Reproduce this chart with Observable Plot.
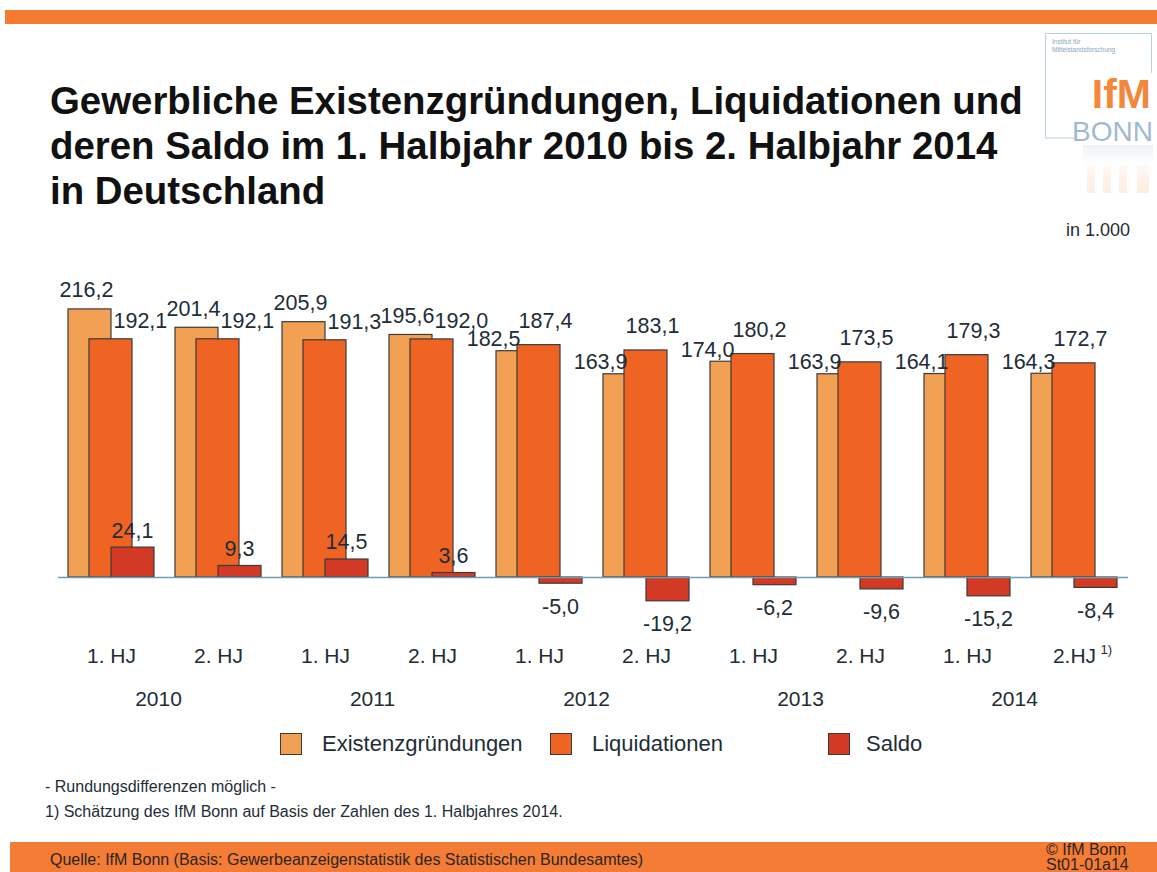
<!DOCTYPE html>
<html>
<head>
<meta charset="utf-8">
<script src="https://cdn.jsdelivr.net/npm/d3@7"></script>
<script src="https://cdn.jsdelivr.net/npm/@observablehq/plot@0.6"></script>
<style>
  html, body { margin: 0; padding: 0; background: #fff; }
  #page { position: relative; width: 1157px; height: 872px; overflow: hidden; background: #fff;
          font-family: "Liberation Sans", Arial, sans-serif; color: #1e2d36; }
  .abs { position: absolute; white-space: nowrap; }
  #topbar { left: 5px; right: 0; top: 10px; height: 14px; background: #f47b30; }
  #title { left: 50px; top: 78px; font-size: 38.4px; line-height: 45px; font-weight: bold; color: #111; }
  #unit { right: 27px; top: 220px; font-size: 18px; }
  #chart { left: 0; top: 260px; }
  .leg { top: 733px; height: 22px; display: flex; align-items: center; font-size: 22px; }
  .sw { width: 20px; height: 20px; border: 1px solid #3b3b3b; margin-right: 20px; }
  .note { left: 45px; font-size: 16px; color: #1e2d36; }
  #footer { left: 10px; right: 0; top: 842px; height: 30px; background: #f47c35; }
  #src { left: 50px; top: 851px; font-size: 16px; color: #2a2522; }
  #copy { left: 1046px; top: 842px; font-size: 16px; line-height: 15px; color: #2a2522; }
  #logo { left: 1045px; top: 33px; width: 110px; height: 165px; }
</style>
</head>
<body>
<div id="page">
  <div id="topbar" class="abs"></div>
  <div id="title" class="abs">Gewerbliche Existenzgründungen, Liquidationen und<br>deren Saldo im 1. Halbjahr 2010 bis 2. Halbjahr 2014<br>in Deutschland</div>
  <svg id="logo" class="abs" width="110" height="165" viewBox="0 0 110 165">
    <defs>
      <linearGradient id="fadeB" x1="0" y1="0" x2="0" y2="1">
        <stop offset="0" stop-color="#9fbad0" stop-opacity="0.18"/>
        <stop offset="1" stop-color="#9fbad0" stop-opacity="0"/>
      </linearGradient>
      <linearGradient id="fadeO" x1="0" y1="0" x2="0" y2="1">
        <stop offset="0" stop-color="#f3883c" stop-opacity="0.05"/>
        <stop offset="1" stop-color="#f3883c" stop-opacity="0.16"/>
      </linearGradient>
    </defs>
    <path d="M0.5 30 L0.5 0.5 L106.5 0.5 L106.5 40" fill="none" stroke="#b9cfde" stroke-width="1"/>
    <path d="M0.5 30 L0.5 105 L30 105" fill="none" stroke="#b9cfde" stroke-width="1"/>
    <text x="7" y="11" font-size="6.5" fill="#8aa6ba" font-family="Liberation Sans">Institut für</text>
    <text x="7" y="19" font-size="6.5" fill="#8aa6ba" font-family="Liberation Sans">Mittelstandsforschung</text>
    <text x="106" y="75" font-size="41" font-weight="bold" fill="#f3883c" text-anchor="end" font-family="Liberation Sans">IfM</text>
    <text x="108" y="108" font-size="28" fill="#9fbad0" text-anchor="end" font-family="Liberation Sans">BONN</text>
    <rect x="38" y="112" width="70" height="18" fill="url(#fadeB)"/>
    <rect x="42" y="132" width="8" height="28" fill="url(#fadeO)"/>
    <rect x="58" y="132" width="8" height="28" fill="url(#fadeO)"/>
    <rect x="74" y="132" width="8" height="28" fill="url(#fadeO)"/>
    <rect x="92" y="132" width="12" height="28" fill="url(#fadeO)"/>
  </svg>
  <div id="unit" class="abs">in 1.000</div>
  <div id="chart" class="abs"></div>
  <div class="abs leg" style="left:280px"><div class="sw" style="background:#f2a054"></div>Existenzgründungen</div>
  <div class="abs leg" style="left:550px"><div class="sw" style="background:#f06423"></div>Liquidationen</div>
  <div class="abs leg" style="left:828px"><div class="sw" style="background:#d23a26;margin-right:16px"></div>Saldo</div>
  <div class="abs note" style="top:778px">- Rundungsdifferenzen möglich -</div>
  <div class="abs note" style="top:803px">1) Schätzung des IfM Bonn auf Basis der Zahlen des 1. Halbjahres 2014.</div>
  <div id="footer" class="abs"></div>
  <div id="src" class="abs">Quelle: IfM Bonn (Basis: Gewerbeanzeigenstatistik des Statistischen Bundesamtes)</div>
  <div id="copy" class="abs">© IfM Bonn<br>St01-01a14</div>
</div>
<script>
// ---- data ----
const periods = ["2010-1","2010-2","2011-1","2011-2","2012-1","2012-2","2013-1","2013-2","2014-1","2014-2"];
const halfLabels = ["1. HJ","2. HJ","1. HJ","2. HJ","1. HJ","2. HJ","1. HJ","2. HJ","1. HJ","2.HJ"];
const years = ["2010","2011","2012","2013","2014"];
const gruendungen = [216.2, 201.4, 205.9, 195.6, 182.5, 163.9, 174.0, 163.9, 164.1, 164.3];
const liquidationen = [192.1, 192.1, 191.3, 192.0, 187.4, 183.1, 180.2, 173.5, 179.3, 172.7];
const saldo = [24.1, 9.3, 14.5, 3.6, -5.0, -19.2, -6.2, -9.6, -15.2, -8.4];

const rows = periods.map((p, i) => ({ period: p, i, half: halfLabels[i], g: gruendungen[i], l: liquidationen[i], s: saldo[i] }));
const yearRows = years.map((y, k) => ({ year: y, period: periods[2 * k] }));
const fmt = v => v.toFixed(1).replace(".", ",");

const cG = "#f2a054", cL = "#f06423", cS = "#d23a26", ink = "#1e2d36", edge = "#3b3b3b";
const lbl = { fontSize: 21.5, fill: ink };

const chart = Plot.plot({
  width: 1157,
  height: 470,
  marginLeft: 58,
  marginRight: 29,
  marginTop: 0,
  marginBottom: 0,
  style: { fontFamily: "Liberation Sans, Arial, sans-serif", background: "transparent", overflow: "visible" },
  x: { type: "band", domain: periods, range: [54.24, 1130.24], paddingInner: 0.2, paddingOuter: 0.1, axis: null },
  y: { domain: [-40, 230], range: [366.6, 31.8], axis: null },
  marks: [
    Plot.barY(rows, { x: "period", y: "g", fill: cG, stroke: edge, strokeWidth: 1.2, insetRight: 43 }),
    Plot.barY(rows, { x: "period", y: "l", fill: cL, stroke: edge, strokeWidth: 1.2, insetLeft: 21, insetRight: 22 }),
    Plot.barY(rows, { x: "period", y: "s", fill: cS, stroke: edge, strokeWidth: 1.2, insetLeft: 43 }),
    Plot.ruleY([0], { stroke: "#6f9db5", strokeWidth: 1.5 }),
    // Existenzgründungen labels
    Plot.text(rows.filter(d => d.i < 4), { x: "period", y: "g", text: d => fmt(d.g), dx: -25, dy: -19, ...lbl }),
    Plot.text(rows.filter(d => d.i >= 4), { x: "period", y: "g", text: d => fmt(d.g), dx: -19, dy: -12, textAnchor: "end", ...lbl }),
    // Liquidationen labels
    Plot.text(rows.filter(d => d.i < 4), { x: "period", y: "l", text: d => fmt(d.l), dx: 2, dy: -18, textAnchor: "start", ...lbl }),
    Plot.text(rows.filter(d => d.i >= 4), { x: "period", y: "l", text: d => fmt(d.l), dx: 6, dy: -24, ...lbl }),
    // Saldo labels
    Plot.text(rows.filter(d => d.s >= 0), { x: "period", y: "s", text: d => fmt(d.s), dx: 21, dy: -17, ...lbl }),
    Plot.text(rows.filter(d => d.s < 0), { x: "period", y: "s", text: d => fmt(d.s), dx: 21, dy: 23, ...lbl }),
    // category axis
    Plot.text(rows, { x: "period", text: "half", frameAnchor: "bottom", dy: -68, fontSize: 21, fill: ink }),
    Plot.text(rows.filter(d => d.i === periods.length - 1), { x: "period", text: () => "1)", frameAnchor: "bottom", dy: -77, dx: 26, textAnchor: "start", fontSize: 13, fill: ink }),
    Plot.text(yearRows, { x: "period", text: "year", frameAnchor: "bottom", dy: -25, dx: 47, fontSize: 21, fill: ink })
  ]
});
document.getElementById("chart").appendChild(chart);
</script>
</body>
</html>
